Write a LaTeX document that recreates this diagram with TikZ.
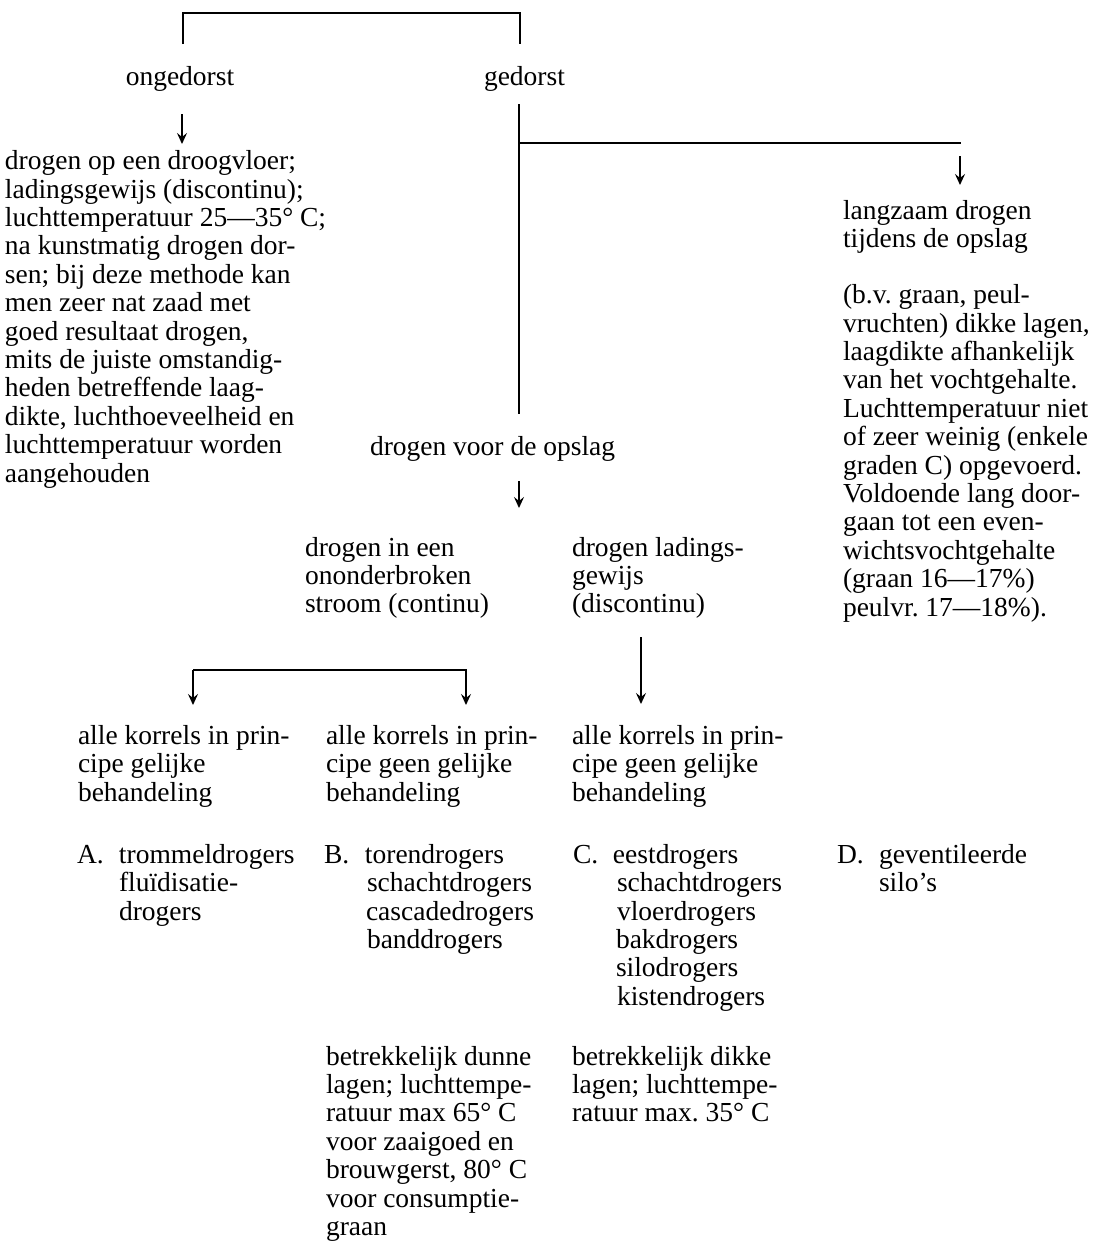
\documentclass[tikz,border=0pt]{standalone}
\usepackage{fontspec}
\setmainfont{Liberation Serif}
\usetikzlibrary{arrows.meta}
\frenchspacing
\tikzset{
  txt/.style={inner sep=0pt, outer sep=0pt, align=left, anchor=base west,
              font=\fontsize{27.5}{28.4}\selectfont},
  ln/.style={line width=2.8pt},
  arr/.style={line width=2.2pt, -{Stealth[length=11pt,width=10pt,inset=4pt]}},
}
\begin{document}
\begin{tikzpicture}[x=1pt,y=-1pt]
\useasboundingbox (0,0) rectangle (1115,1250);

% texts (multi-line nodes are placed by the baseline of their last line)
\node[txt, anchor=base] (onged) at (180,85) {ongedorst};
\node[txt] (ged) at (484,85) {gedorst};

\node[txt] (dvloer) at (5,482) {drogen op een droogvloer;\\
ladingsgewijs (discontinu);\\
luchttemperatuur 25—35° C;\\
na kunstmatig drogen dor-\\
sen; bij deze methode kan\\
men zeer nat zaad met\\
goed resultaat drogen,\\
mits de juiste omstandig-\\
heden betreffende laag-\\
dikte, luchthoeveelheid en\\
luchttemperatuur worden\\
aangehouden};

\node[txt] (langz) at (843,247.4) {langzaam drogen\\tijdens de opslag};
\node[txt] (bv) at (843,616) {(b.v. graan, peul-\\
vruchten) dikke lagen,\\
laagdikte afhankelijk\\
van het vochtgehalte.\\
Luchttemperatuur niet\\
of zeer weinig (enkele\\
graden C) opgevoerd.\\
Voldoende lang door-\\
gaan tot een even-\\
wichtsvochtgehalte\\
(graan 16—17\%)\\
peulvr. 17—18\%).};

\node[txt] (voor) at (370,455) {drogen voor de opslag};

\node[txt] (cont) at (305,612.8) {drogen in een\\ononderbroken\\stroom (continu)};
\node[txt] (disc) at (572,612.8) {drogen ladings-\\gewijs\\(discontinu)};

\node[txt] (k1) at (78,801) {alle korrels in prin-\\cipe gelijke\\behandeling};
\node[txt] (k2) at (326,801) {alle korrels in prin-\\cipe geen gelijke\\behandeling};
\node[txt] (k3) at (572,801) {alle korrels in prin-\\cipe geen gelijke\\behandeling};

\node[txt] (lA) at (77,920) {\makebox[42pt][l]{A.}trommeldrogers\\
\hspace*{42pt}fluïdisatie-\\
\hspace*{42pt}drogers};
\node[txt] (lB) at (324,948.4) {\makebox[41pt][l]{B.}torendrogers\\
\hspace*{43pt}schachtdrogers\\
\hspace*{42pt}cascadedrogers\\
\hspace*{43pt}banddrogers};
\node[txt] (lC) at (573,1005.2) {\makebox[40pt][l]{C.}eestdrogers\\
\hspace*{44pt}schachtdrogers\\
\hspace*{44pt}vloerdrogers\\
\hspace*{43pt}bakdrogers\\
\hspace*{43pt}silodrogers\\
\hspace*{44pt}kistendrogers};
\node[txt] (lD) at (837,891.6) {\makebox[42pt][l]{D.}geventileerde\\
\hspace*{42pt}silo’s};

\node[txt] (dun) at (326,1235.4) {betrekkelijk dunne\\
lagen; luchttempe-\\
ratuur max 65° C\\
voor zaaigoed en\\
brouwgerst, 80° C\\
voor consumptie-\\
graan};
\node[txt] (dik) at (572,1121.8) {betrekkelijk dikke\\
lagen; luchttempe-\\
ratuur max. 35° C};

% connector coordinates
\coordinate (top) at (0,13);
\coordinate (tL) at (183,44);
\coordinate (tR) at (520,44);
\coordinate (oA1) at (182,114);
\coordinate (oA2) at (182,144);
\coordinate (g1) at (519,104);
\coordinate (g2) at (519,414);
\coordinate (gb) at (519,143);
\coordinate (gbr) at (961,143);
\coordinate (lA1) at (960,156);
\coordinate (lA2) at (960,185);
\coordinate (vA1) at (519,481);
\coordinate (vA2) at (519,508);
\coordinate (bL) at (193,670);
\coordinate (bR) at (467,670);
\coordinate (bLe) at (193,705);
\coordinate (bRe) at (466,705);
\coordinate (dA1) at (641,637);
\coordinate (dA2) at (641,704);

% connectors
\draw[ln] (tL) -- (tL |- top) -- (tR |- top) -- (tR);
\draw[arr] (oA1) -- (oA2);
\draw[ln] (g1) -- (g2);
\draw[ln] (gb) -- (gbr);
\draw[arr] (lA1) -- (lA2);
\draw[arr] (vA1) -- (vA2);
\draw[ln] (bL) -- (bR);
\draw[arr] (bL) -- (bLe);
\draw[arr] (bR -| bRe) -- (bRe);
\draw[arr] (dA1) -- (dA2);
\end{tikzpicture}
\end{document}
